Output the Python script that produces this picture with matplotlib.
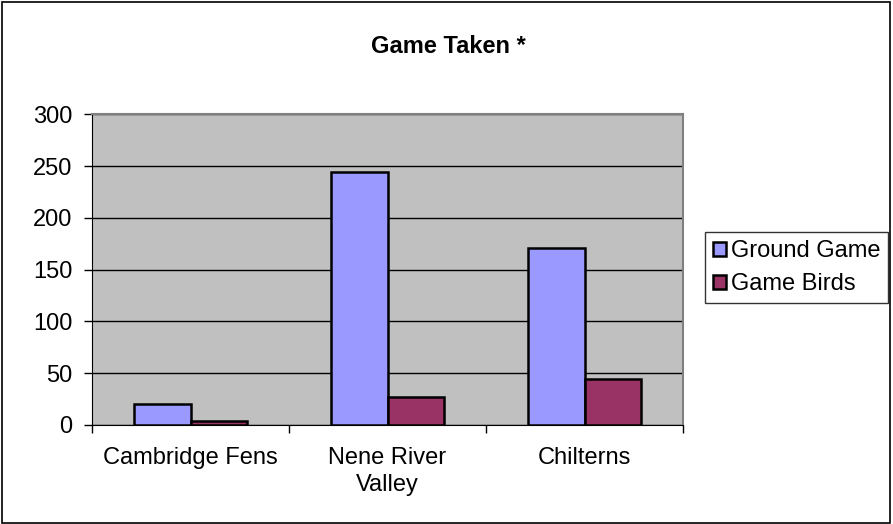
import matplotlib.pyplot as plt
import numpy as np
from matplotlib.patches import Rectangle

plt.rcParams['font.family'] = ['Liberation Sans', 'DejaVu Sans']

regions = ["Cambridge Fens", "Nene River\nValley", "Chilterns"]
ground_game = [20, 244, 171]
game_birds = [4, 27, 44]
y_ticks = [0, 50, 100, 150, 200, 250, 300]

fs = 17

fig = plt.figure(figsize=(8.93, 5.24), dpi=100)
ax = fig.add_axes([0.103, 0.189, 0.662, 0.593])

x = np.arange(len(regions))
w = 1 / 3.5
ax.bar(x - w / 2, ground_game, w, color="#9999ff", edgecolor="black", linewidth=1.8,
       label="Ground Game", zorder=3)
ax.bar(x + w / 2, game_birds, w, color="#993366", edgecolor="black", linewidth=1.8,
       label="Game Birds", zorder=3)

ax.set_facecolor("#c0c0c0")
ax.set_xlim(-0.5, 2.5)
ax.set_ylim(0, 300)
ax.set_yticks(y_ticks)
ax.tick_params(axis="y", labelsize=fs, length=6, direction="out", width=1, pad=8)
ax.yaxis.grid(True, color="black", linewidth=1, zorder=1)
ax.set_axisbelow(True)

ax.set_xticks(x)
ax.set_xticklabels(regions, fontsize=fs, linespacing=1.3)
ax.tick_params(axis="x", length=0, pad=16)
ax.set_xticks([-0.5, 0.5, 1.5, 2.5], minor=True)
ax.tick_params(axis="x", which="minor", length=6, width=1)

for side in ["top", "right"]:
    ax.spines[side].set_color("#808080")
    ax.spines[side].set_linewidth(1.5)
ax.spines["left"].set_color("black")
ax.spines["bottom"].set_color("black")

fig.text(0.502, 0.912, "Game Taken *", fontsize=fs, fontweight="bold", ha="center", va="center")

leg = fig.legend(loc="center left", bbox_to_anchor=(0.789, 0.489), fontsize=fs,
                 frameon=True, fancybox=False, edgecolor="black", handlelength=0.55,
                 handleheight=0.55, handletextpad=0.2, borderpad=0.35, labelspacing=0.45,
                 borderaxespad=0)
leg.get_frame().set_linewidth(1)

fig.patches.append(Rectangle((0.002, 0.002), 0.995, 0.995, transform=fig.transFigure,
                             fill=False, edgecolor="black", linewidth=1.2))

fig.savefig("out.png", dpi=100)
